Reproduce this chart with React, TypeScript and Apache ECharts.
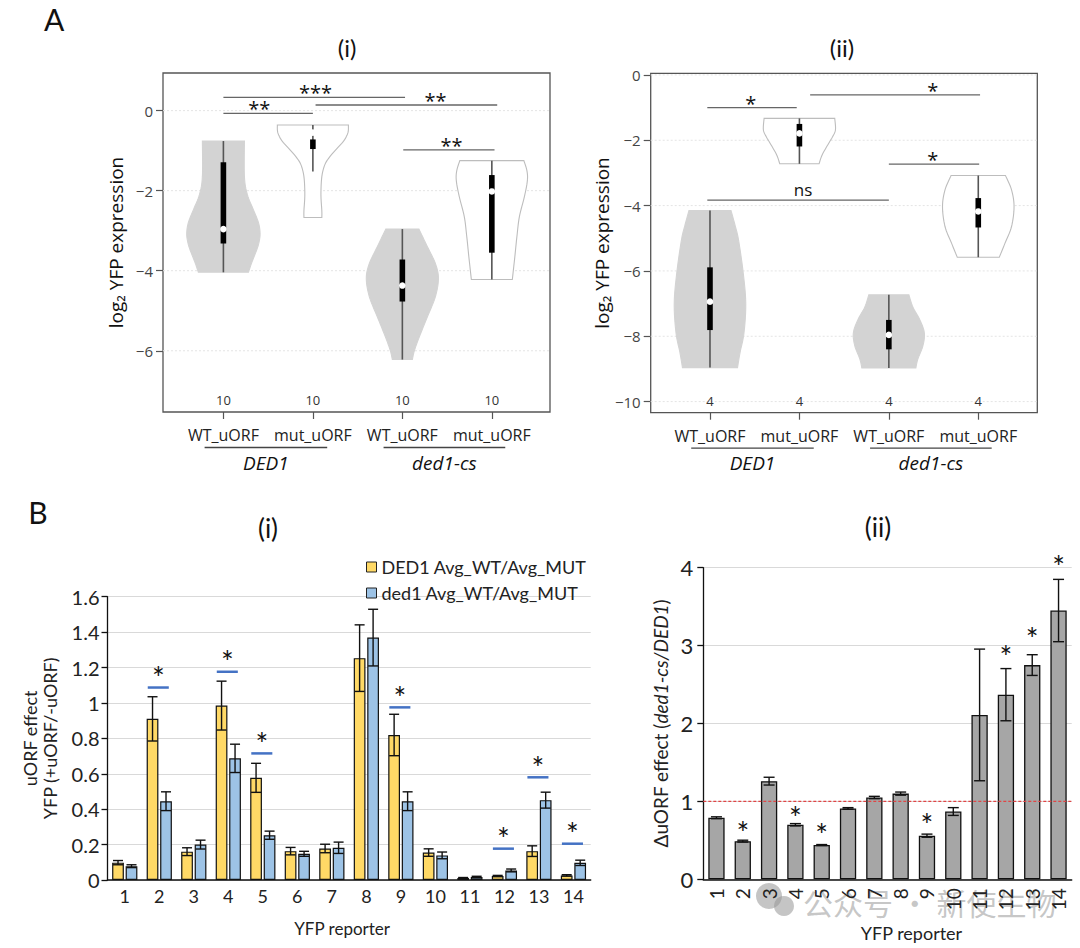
import React, { useEffect, useRef } from 'react';
import * as echarts from 'echarts';

const FONT_A = 'Open Sans';
const FONT_B = 'Lato';

// ---------------- Panel A data ----------------
const conditionLabels = ['WT_uORF', 'mut_uORF', 'WT_uORF', 'mut_uORF'];
const genotypeNames = ['DED1', 'ded1-cs'];
const genotypeSpans = [[0.79, 2.16], [2.79, 4.15]];
const violinFills = ['#d3d3d3', '#ffffff', '#d3d3d3', '#ffffff'];

// A(i)
const aiTicks = [-6, -4, -2, 0];
const aiCounts = [10, 10, 10, 10];
// violin outline: [log2 value, half width in x units]
const aiProfiles = [
  [[-0.76, 0.235], [-1.65, 0.235], [-2.1, 0.268], [-2.48, 0.336], [-2.8, 0.392], [-3.07, 0.41], [-3.3, 0.397], [-3.5, 0.369], [-3.82, 0.313], [-4.04, 0.28]],
  [[-0.36, 0.397], [-0.55, 0.392], [-0.75, 0.347], [-0.95, 0.268], [-1.15, 0.19], [-1.35, 0.134], [-1.65, 0.1], [-2.1, 0.09], [-2.5, 0.1], [-2.67, 0.1]],
  [[-2.96, 0.185], [-3.4, 0.28], [-3.82, 0.369], [-4.19, 0.403], [-4.65, 0.369], [-5.15, 0.28], [-5.65, 0.19], [-6.0, 0.134], [-6.22, 0.112]],
  [[-1.25, 0.358], [-1.5, 0.392], [-1.75, 0.397], [-2.15, 0.364], [-2.65, 0.308], [-3.15, 0.28], [-3.65, 0.257], [-4.22, 0.229]],
];
// [min, q1, median, q3, max]
const aiStats = [
  [-4.04, -3.32, -2.96, -1.29, -0.76],
  [-1.52, -0.96, -0.55, -0.72, -0.36],
  [-6.22, -4.77, -4.37, -3.72, -2.96],
  [-4.22, -3.55, -2.02, -1.61, -1.25],
];
// [x1, x2, y, labelX]
const aiSigLines = [
  [1.0, 2.0, -0.07, 1.4],
  [1.0, 3.03, 0.33, 2.03],
  [2.03, 4.06, 0.14, 3.37],
  [3.01, 4.03, -0.98, 3.55],
];
const aiSigLabels = ['**', '***', '**', '**'];

// A(ii)
const aiiTicks = [-10, -8, -6, -4, -2, 0];
const aiiCounts = [4, 4, 4, 4];
const aiiProfiles = [
  [[-4.15, 0.235], [-4.6, 0.28], [-5.05, 0.319], [-6.07, 0.372], [-7.0, 0.4], [-7.9, 0.38], [-8.5, 0.336], [-8.96, 0.308]],
  [[-1.33, 0.395], [-1.68, 0.403], [-1.9, 0.369], [-2.09, 0.328], [-2.45, 0.254], [-2.72, 0.22]],
  [[-6.73, 0.224], [-7.1, 0.268], [-7.5, 0.347], [-7.9, 0.397], [-8.3, 0.38], [-8.7, 0.324], [-8.97, 0.302]],
  [[-3.08, 0.304], [-3.52, 0.372], [-4.03, 0.4], [-4.64, 0.372], [-5.15, 0.299], [-5.58, 0.235]],
];
const aiiStats = [
  [-8.96, -7.81, -6.94, -5.89, -4.15],
  [-2.72, -2.19, -1.79, -1.5, -1.33],
  [-8.97, -8.4, -7.96, -7.5, -6.73],
  [-5.58, -4.67, -4.18, -3.77, -3.08],
];
const aiiSigLines = [
  [0.97, 1.97, -1.0, 1.455],
  [2.12, 4.02, -0.61, 3.49],
  [3.0, 4.01, -2.73, 3.49],
  [0.97, 3.0, -3.83, 2.04],
];
const aiiSigLabels = ['*', '*', '*', 'ns'];

// ---------------- Panel B data ----------------
const reporters = ['1', '2', '3', '4', '5', '6', '7', '8', '9', '10', '11', '12', '13', '14'];
const dedRatio = [0.098, 0.91, 0.16, 0.985, 0.577, 0.163, 0.178, 1.253, 0.819, 0.155, 0.011, 0.023, 0.163, 0.026];
const dedErr = [0.012, 0.125, 0.022, 0.138, 0.082, 0.021, 0.024, 0.188, 0.117, 0.021, 0.003, 0.003, 0.03, 0.004];
const ded1Ratio = [0.078, 0.445, 0.2, 0.687, 0.253, 0.148, 0.182, 1.369, 0.445, 0.139, 0.017, 0.054, 0.451, 0.097];
const ded1Err = [0.008, 0.053, 0.025, 0.08, 0.023, 0.014, 0.032, 0.16, 0.053, 0.019, 0.004, 0.008, 0.045, 0.015];
const biSigCats = [1, 3, 4, 8, 11, 12, 13];
const biSigLevels = [1.087, 1.176, 0.715, 0.975, 0.177, 0.58, 0.205];

const deltaEffect = [0.79, 0.49, 1.26, 0.7, 0.44, 0.91, 1.05, 1.1, 0.56, 0.87, 2.11, 2.37, 2.75, 3.45];
const deltaErr = [0.012, 0.012, 0.05, 0.015, 0.006, 0.01, 0.015, 0.02, 0.02, 0.05, 0.845, 0.335, 0.133, 0.4];
const biiSigCats = [1, 3, 4, 8, 11, 12, 13];
const biiSigLevels = [0.633, 0.826, 0.612, 0.74, 2.9, 3.136, 4.048];
const noChangeLevel = [1];

const BAR_W = 0.34;
const BAR_GAP = 0.15;

function fmtMinus(v: number) {
  return v < 0 ? '\u2212' + Math.abs(v) : String(v);
}

function catmull(pts: number[][], steps = 8) {
  const out: number[][] = [];
  const n = pts.length;
  for (let i = 0; i < n - 1; i++) {
    const p0 = pts[Math.max(i - 1, 0)];
    const p1 = pts[i];
    const p2 = pts[i + 1];
    const p3 = pts[Math.min(i + 2, n - 1)];
    for (let s = 0; s < steps; s++) {
      const t = s / steps;
      const t2 = t * t;
      const t3 = t2 * t;
      const f = (a: number, b: number, c: number, d: number) =>
        0.5 * (2 * b + (-a + c) * t + (2 * a - 5 * b + 4 * c - d) * t2 + (-a + 3 * b - 3 * c + d) * t3);
      out.push([f(p0[0], p1[0], p2[0], p3[0]), f(p0[1], p1[1], p2[1], p3[1])]);
    }
  }
  out.push(pts[n - 1]);
  return out;
}

function violinRender(profiles: number[][][], stats: number[][]) {
  return (params: any, api: any) => {
    const i = params.dataIndex;
    const cx = api.value(0);
    const prof = profiles[i];
    const left = catmull(prof.map(([y, hw]) => api.coord([cx - hw, y])));
    const right = catmull(prof.map(([y, hw]) => api.coord([cx + hw, y]))).reverse();
    const st = stats[i];
    const top = api.coord([cx, st[4]]);
    const bot = api.coord([cx, st[0]]);
    const q3 = api.coord([cx, st[3]]);
    const q1 = api.coord([cx, st[1]]);
    const med = api.coord([cx, st[2]]);
    const white = violinFills[i] === '#ffffff';
    return {
      type: 'group',
      children: [
        {
          type: 'polygon',
          shape: { points: left.concat(right) },
          style: { fill: violinFills[i], stroke: white ? '#bdbdbd' : '#d3d3d3', lineWidth: 1.1 },
        },
        { type: 'line', shape: { x1: top[0], y1: top[1], x2: bot[0], y2: bot[1] }, style: { stroke: '#555', lineWidth: 1.6 } },
        { type: 'rect', shape: { x: q3[0] - 2.8, y: q3[1], width: 5.6, height: q1[1] - q3[1] }, style: { fill: '#000' } },
        { type: 'circle', shape: { cx: med[0], cy: med[1], r: 3.3 }, style: { fill: '#fff' } },
      ],
    };
  };
}

function sigRender(lines: number[][], labels: string[]) {
  return (params: any, api: any) => {
    const [x1, x2, y, lx] = lines[params.dataIndex];
    const a = api.coord([x1, y]);
    const b = api.coord([x2, y]);
    const l = api.coord([lx, y]);
    const lab = labels[params.dataIndex];
    const isNs = lab === 'ns';
    const fs = isNs ? 17 : 20;
    return {
      type: 'group',
      children: [
        { type: 'line', shape: { x1: a[0], y1: a[1], x2: b[0], y2: b[1] }, style: { stroke: '#666', lineWidth: 1.3 } },
        {
          type: 'text',
          x: l[0],
          y: isNs ? a[1] - 11 : a[1] - 4.5,
          style: { text: lab, fontSize: fs, fontFamily: FONT_A, fill: '#111', align: 'center', verticalAlign: 'middle' },
        },
      ],
    };
  };
}

function countRender(counts: number[]) {
  return (params: any, api: any) => {
    const p = api.coord([api.value(0), 0]);
    const cs = params.coordSys;
    return {
      type: 'text',
      x: p[0],
      y: cs.y + cs.height - 12,
      style: { text: String(counts[params.dataIndex]), fontSize: 13, fontFamily: FONT_A, fill: '#333', align: 'center', verticalAlign: 'middle' },
    };
  };
}

function gridLineRender(params: any, api: any) {
  const p = api.coord([1, api.value(1)]);
  const cs = params.coordSys;
  return {
    type: 'line',
    shape: { x1: cs.x, y1: p[1], x2: cs.x + cs.width, y2: p[1] },
    style: { stroke: '#e4e4e4', lineWidth: 1, lineDash: [2, 2] },
  };
}

function refLineRender(params: any, api: any) {
  const p = api.coord([0, api.value(1)]);
  const cs = params.coordSys;
  return {
    type: 'line',
    shape: { x1: cs.x, y1: p[1], x2: cs.x + cs.width, y2: p[1] },
    style: { stroke: '#E04545', lineWidth: 1.1, lineDash: [3, 2] },
  };
}

function groupRender(params: any, api: any) {
  const [from, to] = genotypeSpans[params.dataIndex];
  const a = api.coord([from, 0]);
  const b = api.coord([to, 0]);
  const cs = params.coordSys;
  const y0 = cs.y + cs.height;
  return {
    type: 'group',
    children: [
      { type: 'line', shape: { x1: a[0], y1: y0 + 35.5, x2: b[0], y2: y0 + 35.5 }, style: { stroke: '#444', lineWidth: 1.3 } },
      {
        type: 'text',
        x: (a[0] + b[0]) / 2,
        y: y0 + 50.5,
        style: { text: genotypeNames[params.dataIndex], fontSize: 19, fontStyle: 'italic', fontFamily: FONT_A, fill: '#111', align: 'center', verticalAlign: 'middle' },
      },
    ],
  };
}

function errRender(errs: number[], side: number, capHalf: number) {
  return (params: any, api: any) => {
    const idx = api.value(0);
    const v = api.value(1);
    const e = errs[params.dataIndex];
    const band = api.size([1, 0])[0];
    const off = side * (BAR_W / 2 + (BAR_W * BAR_GAP) / 2) * band;
    const hi = api.coord([idx, v + e]);
    const lo = api.coord([idx, v - e]);
    const x = hi[0] + off;
    const st = { stroke: '#111', lineWidth: 1.4 };
    return {
      type: 'group',
      children: [
        { type: 'line', shape: { x1: x, y1: hi[1], x2: x, y2: lo[1] }, style: st },
        { type: 'line', shape: { x1: x - capHalf, y1: hi[1], x2: x + capHalf, y2: hi[1] }, style: st },
        { type: 'line', shape: { x1: x - capHalf, y1: lo[1], x2: x + capHalf, y2: lo[1] }, style: st },
      ],
    };
  };
}

function biSigRender(params: any, api: any) {
  const p = api.coord([api.value(0), api.value(1)]);
  const band = api.size([1, 0])[0];
  const half = 0.305 * band;
  const cx = p[0] - 1;
  return {
    type: 'group',
    children: [
      { type: 'line', shape: { x1: cx - half, y1: p[1], x2: cx + half, y2: p[1] }, style: { stroke: '#4472C4', lineWidth: 2.5 } },
      {
        type: 'text',
        x: cx,
        y: p[1] - 10.5,
        style: { text: '*', fontSize: 30, fontFamily: FONT_B, fill: '#111', align: 'center', verticalAlign: 'middle' },
      },
    ],
  };
}

function biiSigRender(params: any, api: any) {
  const p = api.coord([api.value(0), api.value(1)]);
  return {
    type: 'text',
    x: p[0],
    y: p[1] + 2.5,
    style: { text: '*', fontSize: 30, fontFamily: FONT_B, fill: '#111', align: 'center', verticalAlign: 'middle' },
  };
}

function buildOption() {
  const aTickLabel = { fontSize: 15, color: '#444', fontFamily: FONT_A, margin: 10, formatter: (v: number) => fmtMinus(v) };
  const aXLabel = {
    customValues: [1, 2, 3, 4],
    fontSize: 16,
    color: '#222',
    fontFamily: FONT_A,
    margin: 15,
    formatter: (v: number) => conditionLabels[Math.round(v) - 1],
  };
  const aTick = (vals: number[]) => ({ show: true, customValues: vals, length: 7, lineStyle: { color: '#555', width: 1.2 } });

  const violinData = [1, 2, 3, 4].map((x) => [x, 0]);

  return {
    animation: false,
    backgroundColor: '#ffffff',
    grid: [
      { left: 163, top: 73, width: 387, height: 339, show: true, borderColor: '#555', borderWidth: 1.3, backgroundColor: 'transparent' },
      { left: 650.7, top: 73.3, width: 386.6, height: 339.4, show: true, borderColor: '#555', borderWidth: 1.3, backgroundColor: 'transparent' },
      { left: 107.5, top: 596.7, width: 483.2, height: 283.3 },
      { left: 703.3, top: 567.7, width: 368.4, height: 311.6 },
    ],
    xAxis: [
      { type: 'value', gridIndex: 0, min: 0.325, max: 4.65, axisLine: { show: false, onZero: false }, splitLine: { show: false }, axisTick: aTick([1, 2, 3, 4]), axisLabel: aXLabel },
      { type: 'value', gridIndex: 1, min: 0.337, max: 4.66, axisLine: { show: false, onZero: false }, splitLine: { show: false }, axisTick: aTick([1, 2, 3, 4]), axisLabel: aXLabel },
      {
        type: 'category',
        gridIndex: 2,
        data: reporters,
        axisLine: { lineStyle: { color: '#111', width: 1.5 } },
        axisTick: { length: 6, lineStyle: { color: '#111', width: 1.5 } },
        axisLabel: { fontSize: 18, color: '#222', fontFamily: FONT_B, margin: 7 },
        name: 'YFP reporter',
        nameLocation: 'middle',
        nameGap: 40,
        nameTextStyle: { fontSize: 17, color: '#222', fontFamily: FONT_B, padding: [0, 14, 0, 0] },
      },
      {
        type: 'category',
        gridIndex: 3,
        data: reporters,
        axisLine: { lineStyle: { color: '#111', width: 1.5 } },
        axisTick: { length: 6, lineStyle: { color: '#111', width: 1.5 } },
        axisLabel: { fontSize: 19, color: '#222', fontFamily: FONT_B, margin: 9, rotate: 90 },
        name: 'YFP reporter',
        nameLocation: 'middle',
        nameGap: 45,
        nameTextStyle: { fontSize: 18, color: '#222', fontFamily: FONT_B, padding: [0, 0, 0, 48] },
      },
    ],
    yAxis: [
      {
        type: 'value',
        gridIndex: 0,
        min: -7.53,
        max: 0.94,
        axisLine: { show: false, onZero: false },
        splitLine: { show: false },
        axisTick: aTick(aiTicks),
        axisLabel: { ...aTickLabel, customValues: aiTicks },
        name: 'log\u2082 YFP expression',
        nameLocation: 'middle',
        nameRotate: 90,
        nameGap: 38,
        nameTextStyle: { fontSize: 19, color: '#111', fontFamily: FONT_A },
      },
      {
        type: 'value',
        gridIndex: 1,
        min: -10.34,
        max: 0.05,
        axisLine: { show: false, onZero: false },
        splitLine: { show: false },
        axisTick: aTick(aiiTicks),
        axisLabel: { ...aTickLabel, customValues: aiiTicks },
        name: 'log\u2082 YFP expression',
        nameLocation: 'middle',
        nameRotate: 90,
        nameGap: 29,
        nameTextStyle: { fontSize: 19, color: '#111', fontFamily: FONT_A },
      },
      {
        type: 'value',
        gridIndex: 2,
        min: 0,
        max: 1.6,
        interval: 0.2,
        axisLine: { show: true, lineStyle: { color: '#111', width: 1.3 } },
        axisTick: { show: true, length: 6, lineStyle: { color: '#111', width: 1.3 } },
        splitLine: { lineStyle: { color: '#d9d9d9', width: 1.2 } },
        axisLabel: { fontSize: 20, color: '#222', fontFamily: FONT_B, margin: 8 },
        name: 'uORF effect\nYFP (+uORF/-uORF)',
        nameLocation: 'middle',
        nameRotate: 90,
        nameGap: 48,
        nameTextStyle: { fontSize: 18, color: '#222', fontFamily: FONT_B, lineHeight: 20 },
      },
      {
        type: 'value',
        gridIndex: 3,
        min: 0,
        max: 4,
        interval: 1,
        axisLine: { show: true, lineStyle: { color: '#111', width: 1.3 } },
        axisTick: { show: true, length: 6, lineStyle: { color: '#111', width: 1.3 } },
        splitLine: { lineStyle: { color: '#d9d9d9', width: 1.2 } },
        axisLabel: { fontSize: 22, color: '#222', fontFamily: FONT_B, margin: 10 },
        name: '\u0394uORF effect ({it|ded1-cs/DED1})',
        nameLocation: 'middle',
        nameRotate: 90,
        nameGap: 33,
        nameTextStyle: {
          fontSize: 19,
          color: '#222',
          fontFamily: FONT_B,
          rich: { it: { fontSize: 19, fontStyle: 'italic', fontFamily: FONT_B, color: '#222' } },
        },
      },
    ],
    legend: {
      data: ['DED1 Avg_WT/Avg_MUT', 'ded1 Avg_WT/Avg_MUT'],
      orient: 'vertical',
      left: 361,
      top: 553,
      itemWidth: 10,
      itemHeight: 10,
      itemGap: 8,
      icon: 'rect',
      textStyle: { fontSize: 18, color: '#222', fontFamily: FONT_B },
      itemStyle: { borderColor: '#222', borderWidth: 1 },
    },
    series: [
      // ---- A(i) ----
      { type: 'custom', xAxisIndex: 0, yAxisIndex: 0, data: aiTicks.map((t) => [1, t]), renderItem: gridLineRender, silent: true },
      { type: 'custom', xAxisIndex: 0, yAxisIndex: 0, data: violinData, renderItem: violinRender(aiProfiles, aiStats), silent: true },
      { type: 'custom', xAxisIndex: 0, yAxisIndex: 0, data: aiSigLines.map((l) => [l[0], l[2]]), renderItem: sigRender(aiSigLines, aiSigLabels), silent: true },
      { type: 'custom', xAxisIndex: 0, yAxisIndex: 0, data: violinData, renderItem: countRender(aiCounts), silent: true },
      { type: 'custom', xAxisIndex: 0, yAxisIndex: 0, data: genotypeSpans.map((s) => [s[0], 0]), renderItem: groupRender, silent: true, clip: false },
      // ---- A(ii) ----
      { type: 'custom', xAxisIndex: 1, yAxisIndex: 1, data: aiiTicks.map((t) => [1, t]), renderItem: gridLineRender, silent: true },
      { type: 'custom', xAxisIndex: 1, yAxisIndex: 1, data: violinData, renderItem: violinRender(aiiProfiles, aiiStats), silent: true },
      { type: 'custom', xAxisIndex: 1, yAxisIndex: 1, data: aiiSigLines.map((l) => [l[0], l[2]]), renderItem: sigRender(aiiSigLines, aiiSigLabels), silent: true },
      { type: 'custom', xAxisIndex: 1, yAxisIndex: 1, data: violinData, renderItem: countRender(aiiCounts), silent: true },
      { type: 'custom', xAxisIndex: 1, yAxisIndex: 1, data: genotypeSpans.map((s) => [s[0], 0]), renderItem: groupRender, silent: true, clip: false },
      // ---- B(i) ----
      {
        name: 'DED1 Avg_WT/Avg_MUT',
        type: 'bar',
        xAxisIndex: 2,
        yAxisIndex: 2,
        data: dedRatio,
        barWidth: BAR_W * 100 + '%',
        barGap: BAR_GAP * 100 + '%',
        itemStyle: { color: '#FFD966', borderColor: '#111', borderWidth: 1.2 },
      },
      {
        name: 'ded1 Avg_WT/Avg_MUT',
        type: 'bar',
        xAxisIndex: 2,
        yAxisIndex: 2,
        data: ded1Ratio,
        barWidth: BAR_W * 100 + '%',
        barGap: BAR_GAP * 100 + '%',
        itemStyle: { color: '#9DC3E6', borderColor: '#111', borderWidth: 1.2 },
      },
      { type: 'custom', xAxisIndex: 2, yAxisIndex: 2, data: dedRatio.map((v, i) => [i, v]), renderItem: errRender(dedErr, -1, 5), silent: true, z: 3 },
      { type: 'custom', xAxisIndex: 2, yAxisIndex: 2, data: ded1Ratio.map((v, i) => [i, v]), renderItem: errRender(ded1Err, 1, 5), silent: true, z: 3 },
      { type: 'custom', xAxisIndex: 2, yAxisIndex: 2, data: biSigCats.map((c, i) => [c, biSigLevels[i]]), renderItem: biSigRender, silent: true, z: 3 },
      // ---- B(ii) ----
      {
        name: 'delta',
        type: 'bar',
        xAxisIndex: 3,
        yAxisIndex: 3,
        data: deltaEffect,
        barCategoryGap: '38%',
        itemStyle: { color: '#A6A6A6', borderColor: '#111', borderWidth: 1.3 },
      },
      { type: 'custom', xAxisIndex: 3, yAxisIndex: 3, data: noChangeLevel.map((v) => [0, v]), renderItem: refLineRender, silent: true, z: 4 },
      { type: 'custom', xAxisIndex: 3, yAxisIndex: 3, data: deltaEffect.map((v, i) => [i, v]), renderItem: errRender(deltaErr, 0, 5.5), silent: true, z: 3 },
      { type: 'custom', xAxisIndex: 3, yAxisIndex: 3, data: biiSigCats.map((c, i) => [c, biiSigLevels[i]]), renderItem: biiSigRender, silent: true, z: 3, clip: false },
    ],
    graphic: [
      { type: 'text', left: 44, top: 4, style: { text: 'A', fontSize: 30, fontFamily: FONT_B, fill: '#111' } },
      { type: 'text', x: 347, y: 47, style: { text: '(i)', fontSize: 24, fontFamily: FONT_B, fill: '#111', align: 'center', verticalAlign: 'middle' } },
      { type: 'text', x: 842, y: 47, style: { text: '(ii)', fontSize: 24, fontFamily: FONT_B, fill: '#111', align: 'center', verticalAlign: 'middle' } },
      { type: 'text', x: 38, y: 512, style: { text: 'B', fontSize: 30, fontFamily: FONT_B, fill: '#111', align: 'center', verticalAlign: 'middle' } },
      { type: 'text', x: 268, y: 528, style: { text: '(i)', fontSize: 26, fontFamily: FONT_B, fill: '#111', align: 'center', verticalAlign: 'middle' } },
      { type: 'text', x: 878, y: 527, style: { text: '(ii)', fontSize: 26, fontFamily: FONT_B, fill: '#111', align: 'center', verticalAlign: 'middle' } },
      // watermark
      { type: 'circle', shape: { cx: 769, cy: 896, r: 13 }, style: { fill: 'rgba(150,150,150,0.55)' } },
      { type: 'circle', shape: { cx: 784, cy: 906, r: 10 }, style: { fill: 'rgba(150,150,150,0.55)' } },
      {
        type: 'text',
        x: 803,
        y: 902,
        style: { text: '公众号 · 新使生物', fontSize: 30, fontFamily: 'Noto Sans CJK SC', fill: 'rgba(150,150,150,0.55)', verticalAlign: 'middle' },
      },
    ],
  };
}

export default function App() {
  const ref = useRef<HTMLDivElement>(null);
  useEffect(() => {
    if (!ref.current) return;
    const chart = echarts.init(ref.current, null, { renderer: 'svg' });
    chart.setOption(buildOption() as any);
    return () => chart.dispose();
  }, []);
  return <div ref={ref} style={{ position: 'absolute', left: 0, top: 0, width: 1080, height: 948, background: '#fff' }} />;
}
